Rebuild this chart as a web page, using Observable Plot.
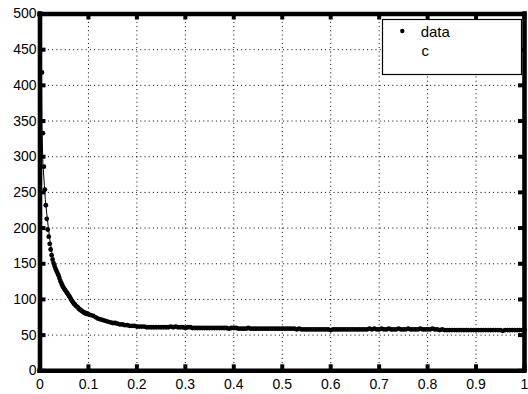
<!DOCTYPE html>
<html><head><meta charset="utf-8">
<script src="https://cdn.jsdelivr.net/npm/d3@7"></script>
<script src="https://cdn.jsdelivr.net/npm/@observablehq/plot@0.6"></script>
<style>
html,body{margin:0;padding:0;background:#fff;}
#wrap{position:relative;width:528px;height:394px;overflow:hidden;}
#legend{position:absolute;left:381px;top:18px;}
</style>
</head><body>
<div id="wrap"></div>
<script>
// sampling of the measured series: fine near 0, coarser afterwards
const stepFine = 0.002, startFine = 0.004;
const valuesFine = [418,333,286,254,232,213,198,188,178,170,162,156,151,147,143,140,137,134,130,126,123,120,117,115,113,111,109,107,105,103,100,98,96,94,93,91,90,89,87,86,85,84,83,82,81,81,80,80,79];
const stepCoarse = 0.005, startCoarse = 0.105;
const valuesCoarse = [
  78,77,75,73,72,71,70,69,68,67,
  67,66,65,65,64,64,63,63,63,62,
  62,62,62,61,61,61,61,61,61,61,
  61,61,61,62,61,62,61,61,61,60,
  61,61,60,60,60,60,60,60,60,60,60,60,60,60,60,60,60,59,60,60,
  60,59,59,59,59,60,59,59,59,59,59,59,59,59,59,59,59,59,59,59,
  59,59,59,59,59,58,59,58,58,58,58,58,58,58,58,58,58,58,58,57,
  58,58,58,58,58,58,58,58,58,58,58,58,58,58,58,59,58,59,58,58,
  59,58,58,59,58,58,58,59,58,58,58,59,58,58,58,58,59,58,58,58,
  58,59,58,58,57,58,57,57,57,57,57,57,57,57,57,57,57,57,57,57,
  57,57,57,57,57,57,57,57,57,57,56,57,57,57,57,57,57,57,57,57
];
// fitted curve "c"
const fitX = [0.0015,0.002,0.003,0.004,0.006,0.009,0.011,0.014,0.017,0.02,0.025,0.03,0.04,0.05,0.06,0.07,0.08,0.1,0.12,0.15,0.2,0.25,0.3,0.4,0.5,0.6,0.7,0.8,0.9,1.0];
const fitY = [700,560,420,340,290,260,240,220,202,185,163,147,128,115,105,96,88,79,73,67,62,61,61,60,59,58.5,58,57.5,57,56.5];
const xTicks = [0,0.1,0.2,0.3,0.4,0.5,0.6,0.7,0.8,0.9,1];
const yTicks = [0,50,100,150,200,250,300,350,400,450,500];
const legendLabels = ["data", "c"];

const data = [
  ...valuesFine.map((v, i) => ({x: +(startFine + stepFine * i).toFixed(4), y: v})),
  ...valuesCoarse.map((v, i) => ({x: +(startCoarse + stepCoarse * i).toFixed(4), y: v}))
];
const fit = fitX.map((x, i) => ({x, y: fitY[i]}));

const W = 528, H = 394;
const mL = 39.5, mR = 4, mT = 13.5, mB = 23.7;
const pw = W - mL - mR, ph = H - mT - mB;
const font = "'Liberation Sans', Arial, Helvetica, sans-serif";
const xEnds = [xTicks[0], xTicks[xTicks.length - 1]];
const yEnds = [yTicks[0], yTicks[yTicks.length - 1]];
const tickLen = 6;

const chart = Plot.plot({
  width: W, height: H,
  marginLeft: mL, marginRight: mR, marginTop: mT, marginBottom: mB,
  x: {domain: xEnds, label: null},
  y: {domain: yEnds, label: null},
  style: {fontFamily: font, fontSize: "14px", background: "white", color: "black", overflow: "visible"},
  marks: [
    Plot.ruleX(xTicks.slice(1, -1), {stroke: "#000", strokeWidth: 1, strokeDasharray: "1,3.2"}),
    Plot.ruleY(yTicks.slice(1, -1), {stroke: "#000", strokeWidth: 1, strokeDasharray: "1,3.2"}),
    Plot.line(fit, {x: "x", y: "y", stroke: "black", strokeWidth: 1, clip: true}),
    Plot.dot(data, {x: "x", y: "y", r: 2.4, fill: "black", stroke: null}),
    Plot.ruleX(xEnds, {stroke: "black", strokeWidth: 4.6, strokeLinecap: "square"}),
    Plot.ruleY(yEnds, {stroke: "black", strokeWidth: 4.6, strokeLinecap: "square"}),
    Plot.ruleX(xTicks, {insetTop: ph - tickLen, stroke: "black", strokeWidth: 4}),
    Plot.ruleX(xTicks, {insetBottom: ph - tickLen, stroke: "black", strokeWidth: 4}),
    Plot.ruleY(yTicks, {insetRight: pw - tickLen, stroke: "black", strokeWidth: 4}),
    Plot.ruleY(yTicks, {insetLeft: pw - tickLen, stroke: "black", strokeWidth: 4}),
    Plot.axisX({ticks: xTicks, tickSize: 0, tickPadding: 8, fontSize: 14, tickFormat: d => String(d)}),
    Plot.axisY({ticks: yTicks, tickSize: 0, tickPadding: 3.5, fontSize: 14, tickFormat: d => String(d)})
  ]
});
const wrap = document.getElementById("wrap");
wrap.appendChild(chart);

// legend inside the axes, top-right
const leg = d3.select(wrap).append("svg").attr("id", "legend")
  .attr("width", 143).attr("height", 58);
leg.append("rect").attr("x", 1.5).attr("y", 1.5).attr("width", 139).attr("height", 55)
  .attr("fill", "white").attr("stroke", "black").attr("stroke-width", 1.2);
leg.append("circle").attr("cx", 21.3).attr("cy", 13).attr("r", 2.2).attr("fill", "black");
leg.append("text").attr("x", 39.7).attr("y", 18.5).attr("font-family", font).attr("font-size", 15)
  .text(legendLabels[0]);
leg.append("text").attr("x", 40.5).attr("y", 37.5).attr("font-family", font).attr("font-size", 15)
  .text(legendLabels[1]);
</script>
</body></html>
